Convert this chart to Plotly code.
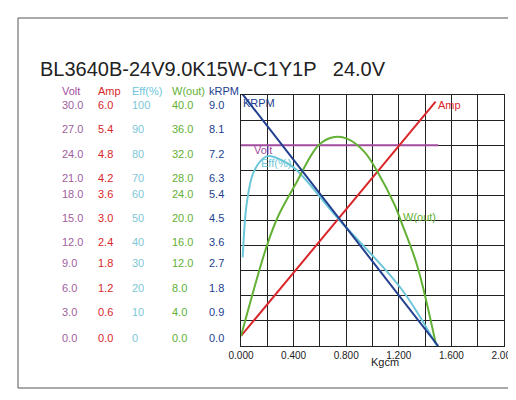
import plotly.graph_objects as go

title = "BL3640B-24V9.0K15W-C1Y1P   24.0V"
volt_ticks = ["30.0","27.0","24.0","21.0","18.0","15.0","12.0","9.0","6.0","3.0","0.0"]
amp_ticks = ["6.0","5.4","4.8","4.2","3.6","3.0","2.4","1.8","1.2","0.6","0.0"]
eff_ticks = ["100","90","80","70","60","50","40","30","20","10","0"]
w_ticks = ["40.0","36.0","32.0","28.0","24.0","20.0","16.0","12.0","8.0","4.0","0.0"]
rpm_ticks = ["9.0","8.1","7.2","6.3","5.4","4.5","3.6","2.7","1.8","0.9","0.0"]
row_py = [89.3,113.3,137.7,161.7,186,210,234.3,262.7,287.7,311.7,337.7]

volt_x = [0, 1.5]; volt_y = [24.0, 24.0]
amp_x = [0, 1.48]; amp_y = [0.24, 5.84]
rpm_x = [0, 1.5]; rpm_y = [9.1, 0.0]
eff_x = [0.013,0.045,0.096,0.184,0.23,0.31,0.41,0.74,1.22,1.49]
eff_y = [35.3,57.3,69.3,75.3,75.6,74.0,70.7,50.7,22.7,0.0]
w_x = [0,0.197,0.285,0.41,0.59,0.71,0.81,0.94,1.04,1.17,1.22,1.34,1.48]
w_y = [1.6,16.0,20.8,25.6,32.0,33.3,33.0,30.9,27.7,22.4,19.7,12.8,0.5]

C_V, C_A, C_E, C_W, C_R = "#a24d9f", "#d9262b", "#6cc6d8", "#62b134", "#22408f"
L, R, T, B = 233, 496, 87, 338
def px2p(px): return (px - L) / (R - L)
def py2p(py): return (B - py) / (B - T)

fig = go.Figure()
def add(x, y, scale, c):
    fig.add_trace(go.Scatter(x=x, y=[v*scale for v in y], mode="lines",
                             line=dict(color=c, width=2), line_shape="spline", showlegend=False))
add(volt_x, volt_y, 10/30, C_V)
add(amp_x, amp_y, 10/6, C_A)
add(eff_x, eff_y, 10/100, C_E)
add(w_x, w_y, 10/40, C_W)
add(rpm_x, rpm_y, 10/9, C_R)

ann = []
cols = [(volt_ticks, 52, "Volt", C_V, "#a060a0"), (amp_ticks, 88, "Amp", C_A, "#d9262b"),
        (eff_ticks, 122, "Eff(%)", C_E, "#7ec8d8"), (w_ticks, 162, "W(out)", C_W, "#62b134"),
        (rpm_ticks, 199, "kRPM", C_R, "#22408f")]
for ticks, px, head, c, tc in cols:
    ann.append(dict(x=px2p(px), y=py2p(75), xref="paper", yref="paper", text=head, showarrow=False,
                    font=dict(color=c, size=11, family="Liberation Sans")))
    for t, p in zip(ticks, row_py):
        ann.append(dict(x=px2p(px), y=py2p(p), xref="paper", yref="paper", text=t, showarrow=False,
                        font=dict(color=tc, size=11, family="Liberation Sans")))
lab = [(0.0, 9.7, "KRPM", C_R), (1.48, 9.6, "Amp", C_A), (0.08, 7.8, "Volt", C_V),
       (0.14, 7.3, "Eff(%)", C_E), (1.22, 5.15, "W(out)", C_W)]
for x, y, t, c in lab:
    ann.append(dict(x=x, y=y, text=t, showarrow=False, xanchor="left",
                    font=dict(color=c, size=11, family="Liberation Sans")))
ann.append(dict(x=px2p(30), y=py2p(48), xref="paper", yref="paper", text=title, showarrow=False,
                xanchor="left", font=dict(size=20, color="#222", family="Liberation Sans")))
ann.append(dict(x=px2p(377), y=py2p(362), xref="paper", yref="paper", text="Kgcm", showarrow=False,
                font=dict(size=11, color="#222", family="Liberation Sans")))

fig.update_layout(
    width=516, height=400, margin=dict(l=L, r=516-R, t=T, b=400-B, autoexpand=False),
    paper_bgcolor="white", plot_bgcolor="white", annotations=ann,
    xaxis=dict(range=[0, 2], tickmode="array", tickvals=[0,0.4,0.8,1.2,1.6,2.0],
               ticktext=["0.000","0.400","0.800","1.200","1.600","2.000"],
               showgrid=True, gridcolor="#222", gridwidth=1,
               showline=True, linecolor="#222", mirror=True, zeroline=False,
               minor=dict(dtick=0.2, tick0=0, showgrid=True, gridcolor="#222", ticklen=0),
               tickfont=dict(size=10, color="#222", family="Liberation Sans")),
    yaxis=dict(range=[0, 10], dtick=1, showticklabels=False, showgrid=True, gridcolor="#222",
               showline=True, linecolor="#222", mirror=True, zeroline=False),
    shapes=[dict(type="rect", xref="paper", yref="paper", x0=px2p(10), x1=px2p(512),
                 y0=py2p(380), y1=py2p(10), line=dict(color="#555", width=1))],
)
fig.write_html("out.html")
